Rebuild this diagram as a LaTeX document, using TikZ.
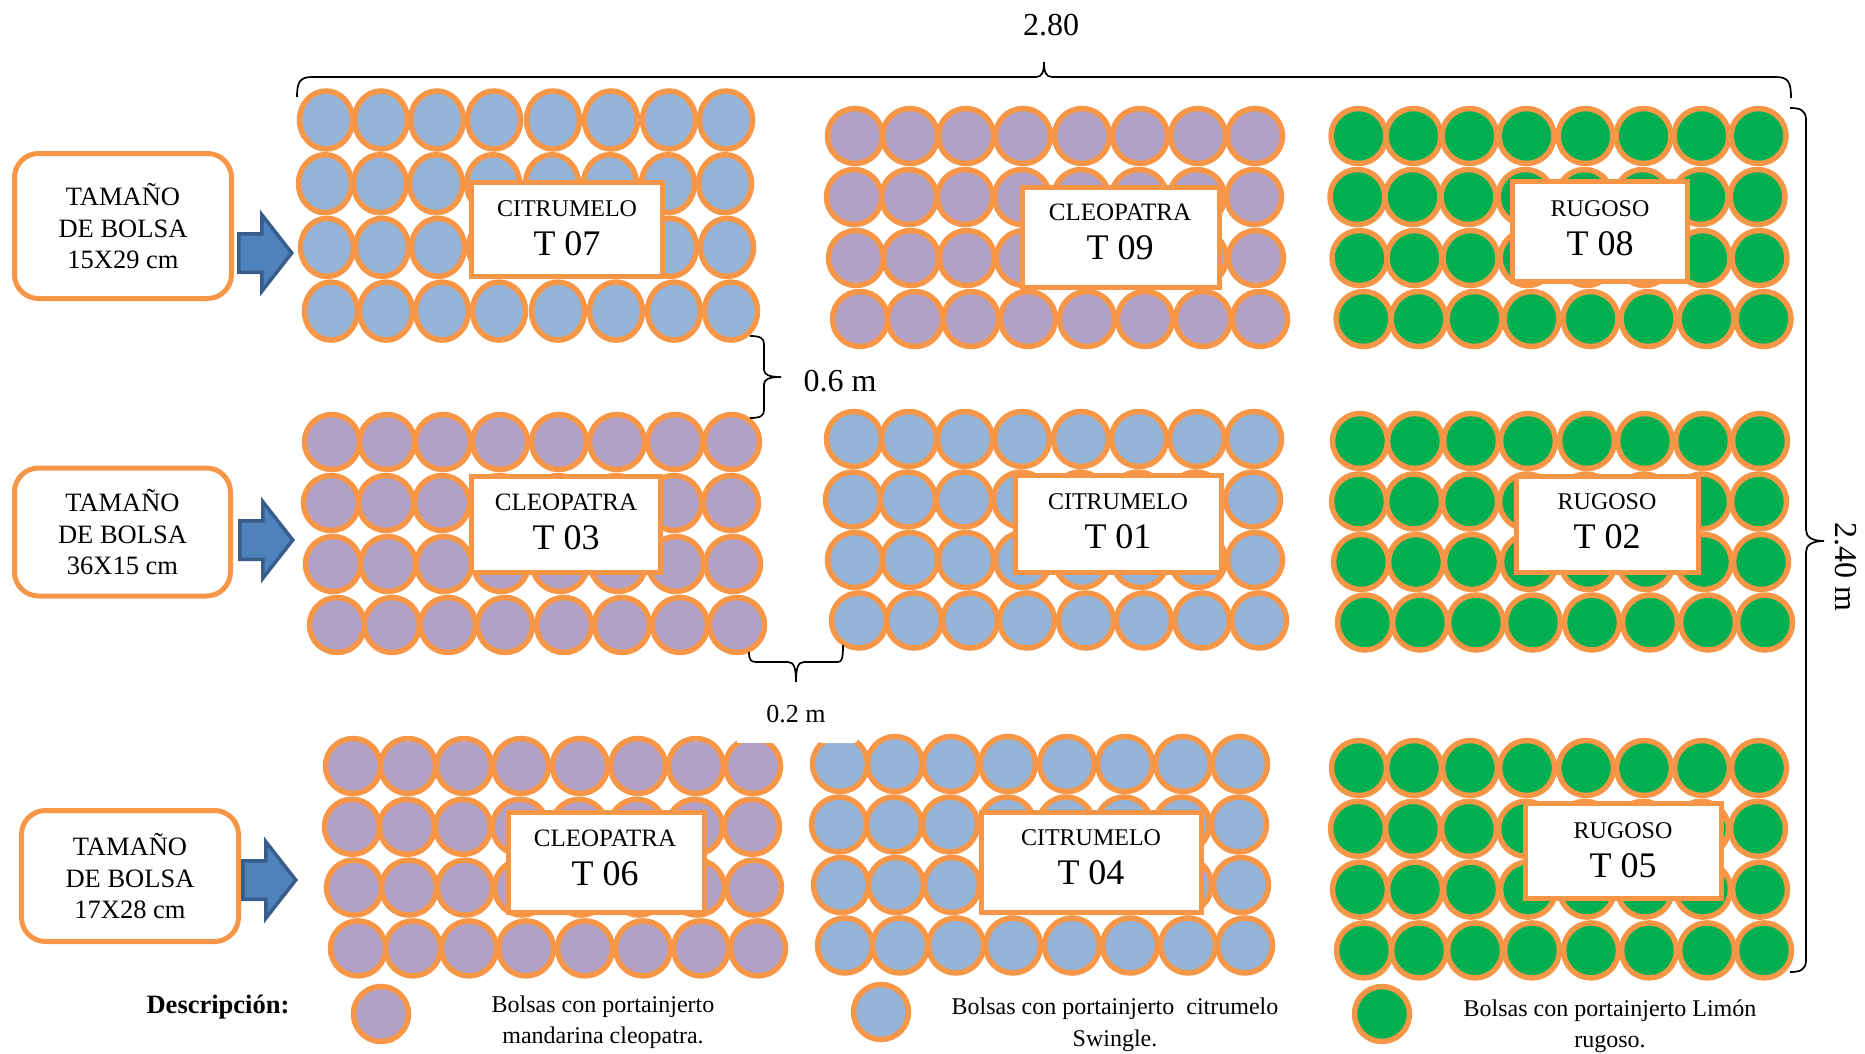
\documentclass[tikz,border=0pt]{standalone}
\usepackage{fontspec}
\setmainfont{Liberation Serif}
\usetikzlibrary{shapes.arrows, shapes.geometric}
\definecolor{naranja}{HTML}{F79646}
\definecolor{azul}{HTML}{95B3D7}
\definecolor{lila}{HTML}{B2A1C7}
\definecolor{verde}{HTML}{00B050}
\definecolor{flechaazul}{HTML}{4F81BD}
\definecolor{flechaborde}{HTML}{385D8A}
\tikzset{
  bolsa/.style={circle, draw=naranja, line width=5.5pt, fill=#1, minimum size=55pt, inner sep=0pt},
  etiqueta/.style={draw=naranja, line width=5pt, fill=white, inner sep=0pt},
  rotulo/.style={align=center, inner sep=0pt, font=\fontsize{36}{39}\selectfont},
  tamano/.style={draw=naranja, line width=5pt, fill=white, rounded corners=24pt, align=center,
    inner sep=0pt, font=\fontsize{26.5}{31}\selectfont},
  flecha/.style={single arrow, draw=flechaborde, line width=3.5pt, fill=flechaazul, inner sep=0pt,
    text height=35pt, single arrow head extend=19pt, single arrow tip angle=104, anchor=tail,
    minimum width=74pt, minimum height=53pt},
  llave/.style={line width=1.7pt, black},
  leyenda/.style={font=\fontsize{24}{31.5}\selectfont, align=center},
  medida/.style={font=\fontsize{#1}{#1}\selectfont}
}
\newcommand{\nomb}[1]{{\fontsize{24}{39}\selectfont #1}}
\newcommand{\nombc}[1]{{\fontsize{25}{39}\selectfont #1}}
% columnas y filas de un bloque: nombre, x, y, color, paso de fila
\newcommand{\bloque}[6][]{
  \foreach \dy/\rx [count=\f] in {0/0,1/-1,2/1,3/5}
    \foreach \dx [count=\c] in {0,55,111,168,227,285,343,400}
      \node[bolsa=#5, #1] (#2-\f-\c) at (#3+\dx+\rx, #4+\dy*#6) {};
}
\begin{document}
\begin{tikzpicture}[x=1pt, y=-1pt]
\useasboundingbox (0,0) rectangle (1865,1054);
\bloque[ellipse, minimum width=53pt, minimum height=58pt]{b07}{326}{120}{azul}{63.7}
\bloque{b09}{855}{136}{lila}{61}
\bloque{b08}{1358.5}{136}{verde}{61}
\bloque{b03}{332}{442}{lila}{61}
\bloque{b01}{854}{439}{azul}{60.5}
\bloque{b02}{1360}{441}{verde}{60.5}
\bloque{b06}{353}{766}{lila}{60.8}
\bloque{b04}{840}{764}{azul}{60.5}
\bloque{b05}{1359}{768}{verde}{60.8}
% recortes blancos arriba
\fill[white] (737,728) rectangle (773,743);
\fill[white, rounded corners=4pt] (818,725) rectangle (858,743);
% rotulos
\node[etiqueta, minimum width=191pt, minimum height=94pt] (t07) at (567,229) {};
\node[etiqueta, minimum width=197pt, minimum height=100pt] (t09) at (1121,237) {};
\node[etiqueta, minimum width=175pt, minimum height=100pt] (t08) at (1600,231) {};
\node[etiqueta, minimum width=189pt, minimum height=96pt] (t03) at (566,524) {};
\node[etiqueta, minimum width=206pt, minimum height=97pt] (t01) at (1118,524) {};
\node[etiqueta, minimum width=182pt, minimum height=96pt] (t02) at (1607,524) {};
\node[etiqueta, minimum width=196pt, minimum height=100pt] (t06) at (606,862) {};
\node[etiqueta, minimum width=220pt, minimum height=100pt] (t04) at (1091,862) {};
\node[etiqueta, minimum width=196pt, minimum height=95pt] (t05) at (1623,851) {};
\node[rotulo] (r07) at (567,228) {\nomb{CITRUMELO}\\T 07};
\node[rotulo] (r09) at (1120,232) {\nombc{CLEOPATRA}\\T 09};
\node[rotulo] (r08) at (1600,228.5) {\nomb{RUGOSO}\\T 08};
\node[rotulo] (r03) at (566,521.5) {\nombc{CLEOPATRA}\\T 03};
\node[rotulo] (r01) at (1118,521.5) {\nomb{CITRUMELO}\\T 01};
\node[rotulo] (r02) at (1607,521.5) {\nomb{RUGOSO}\\T 02};
\node[rotulo] (r06) at (605,857.5) {\nombc{CLEOPATRA}\\T 06};
\node[rotulo] (r04) at (1091,857.5) {\nomb{CITRUMELO}\\T 04};
\node[rotulo] (r05) at (1623,850) {\nomb{RUGOSO}\\T 05};
% tamano de bolsa
\node[tamano, minimum width=217pt, minimum height=145pt] (bolsa1) at (123,226) {\raisebox{1pt}{TAMAÑO}\\DE BOLSA\\15X29 cm};
\node[tamano, minimum width=216pt, minimum height=128pt] (bolsa2) at (122.5,532) {\raisebox{1pt}{TAMAÑO}\\DE BOLSA\\36X15 cm};
\node[tamano, minimum width=217pt, minimum height=131pt] (bolsa3) at (130,876) {\raisebox{1pt}{TAMAÑO}\\DE BOLSA\\17X28 cm};
\node[flecha] (flecha1) at (237,253) {};
\node[flecha] (flecha2) at (238,540) {};
\node[flecha] (flecha3) at (241,880) {};
% llaves
\draw[llave] (297,97) .. controls (297,82) and (300,77) .. (312,77) -- (1036,77)
  .. controls (1042,77) and (1044,72) .. (1044,62) .. controls (1044,72) and (1046,77) .. (1052,77)
  -- (1776,77) .. controls (1788,77) and (1791,82) .. (1791,98);
\draw[llave] (1790,108) .. controls (1800,108) and (1806,110) .. (1806,120) -- (1806,530)
  .. controls (1806,537) and (1812,541) .. (1824,541) .. controls (1812,541) and (1806,545) .. (1806,552)
  -- (1806,960) .. controls (1806,970) and (1800,972) .. (1790,972);
\draw[llave] (750,336) .. controls (760,336) and (764,338) .. (764,344) -- (764,370)
  .. controls (764,375) and (770,377) .. (781,377) .. controls (770,377) and (764,379) .. (764,384)
  -- (764,410) .. controls (764,416) and (760,418) .. (750,418);
\draw[llave] (749,652) .. controls (749,660) and (751,662) .. (756,662) -- (788,662)
  .. controls (794,662) and (796,668) .. (796,682) .. controls (796,668) and (798,662) .. (804,662)
  -- (838,662) .. controls (842,662) and (843,658) .. (843,645);
% medidas
\node[medida=32] (m280) at (1051,25) {2.80};
\node[medida=32] (m06) at (840,381) {0.6 m};
\node[medida=26] (m02) at (796,714) {0.2 m};
\node[medida=32, rotate=-90] (m240) at (1846,567) {2.40 m};
% descripcion
\node[font=\fontsize{26.5}{31}\selectfont\bfseries] (desc) at (218,1007) {Descripción:};
\node[bolsa=lila] (ley1) at (381,1014) {};
\node[bolsa=azul] (ley2) at (881,1012) {};
\node[bolsa=verde] (ley3) at (1382,1014) {};
\node[leyenda] (txt1) at (603,1022) {Bolsas con portainjerto\\mandarina cleopatra.};
\node[leyenda] (txt2) at (1115,1025) {Bolsas con portainjerto~~citrumelo\\Swingle.};
\node[leyenda] (txt3) at (1610,1026) {Bolsas con portainjerto Limón\\rugoso.};
\end{tikzpicture}
\end{document}
